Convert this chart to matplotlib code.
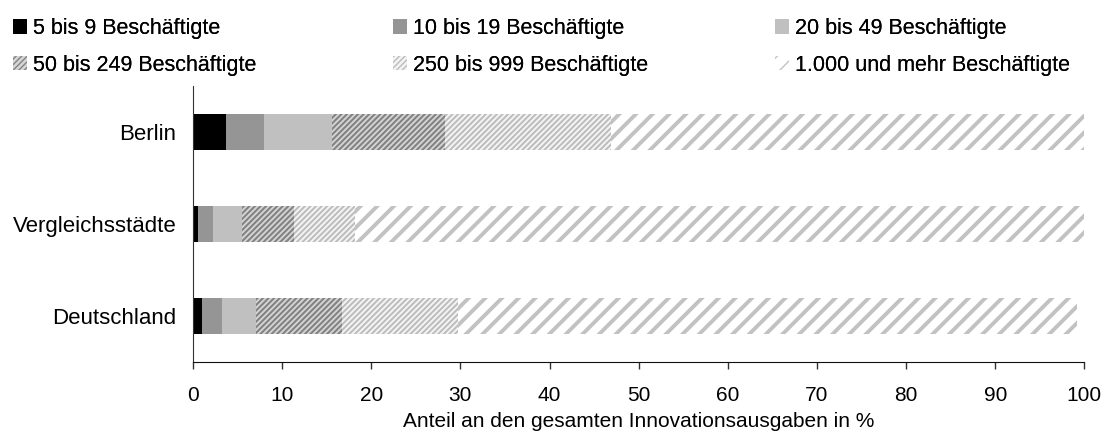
import matplotlib
matplotlib.use("Agg")
import matplotlib.pyplot as plt
import numpy as np

plt.rcParams['font.family'] = ['Liberation Sans', 'DejaVu Sans']

# regions, top to bottom
regions = ['Berlin', 'Vergleichsstädte', 'Deutschland']
classes = ['5 bis 9 Beschäftigte', '10 bis 19 Beschäftigte', '20 bis 49 Beschäftigte',
           '50 bis 249 Beschäftigte', '250 bis 999 Beschäftigte', '1.000 und mehr Beschäftigte']

# share of total innovation spending in %
s_5_9 = [3.7, 0.6, 1.0]
s_10_19 = [4.3, 1.7, 2.3]
s_20_49 = [7.6, 3.2, 3.8]
s_50_249 = [12.7, 5.8, 9.6]
s_250_999 = [18.6, 6.9, 13.0]
s_1000 = [53.1, 81.8, 69.5]
series = [s_5_9, s_10_19, s_20_49, s_50_249, s_250_999, s_1000]

# facecolor, hatch colour, hatch, hatch linewidth
styles = [
    ('#000000', '#000000', None, 1.0),
    ('#959595', '#959595', None, 1.0),
    ('#c0c0c0', '#c0c0c0', None, 1.0),
    ('#d6d6d6', '#838383', '//////', 1.5),
    ('#f4f4f4', '#bcbcbc', '//////', 1.4),
    ('#ffffff', '#c2c2c2', '//', 2.8),
]

fig = plt.figure(figsize=(11.11, 4.37), dpi=100)
ax = fig.add_axes([0.1737, 0.1716, 0.8023, 0.6316])

y = np.arange(len(regions))
left = np.zeros(len(regions))
handles = []
for vals, lab, (fc, hc, hatch, hlw) in zip(series, classes, styles):
    with plt.rc_context({'hatch.linewidth': hlw}):
        bars = ax.barh(y, vals, left=left, height=0.4, color=fc, edgecolor=hc,
                       linewidth=0, hatch=hatch, label=lab)
        for b in bars:
            if hasattr(b, 'set_hatch_linewidth'):
                b.set_hatch_linewidth(hlw)
    handles.append(bars)
    left = left + np.array(vals)

ax.set_ylim(2.5, -0.5)
ax.set_xlim(0, 100)
ax.set_xticks(np.arange(0, 101, 10))
ax.set_yticks(y)
ax.set_yticklabels(regions, fontsize=16)
ax.tick_params(axis='x', labelsize=15, length=5, width=1, direction='out', pad=12, color='#333333')
ax.tick_params(axis='y', length=0, pad=12)
ax.spines['top'].set_visible(False)
ax.spines['right'].set_visible(False)
ax.spines['left'].set_color('#333333')
ax.spines['bottom'].set_color('#111111')
ax.set_xlabel('Anteil an den gesamten Innovationsausgaben in %', fontsize=15, labelpad=5)

# legend: three columns placed by hand, two rows each
col_x = [0.0114, 0.3537, 0.6976]
for c in range(3):
    idx = [c, c + 3]
    leg = fig.legend([handles[i] for i in idx], [classes[i] for i in idx],
                     loc='upper left', bbox_to_anchor=(col_x[c], 0.9588), ncol=1,
                     frameon=False, fontsize=15.5, handlelength=0.65, handleheight=0.65,
                     handletextpad=0.3, labelspacing=0.73, borderpad=0, borderaxespad=0)
    fig.add_artist(leg)

fig.savefig('out.png', dpi=100)
